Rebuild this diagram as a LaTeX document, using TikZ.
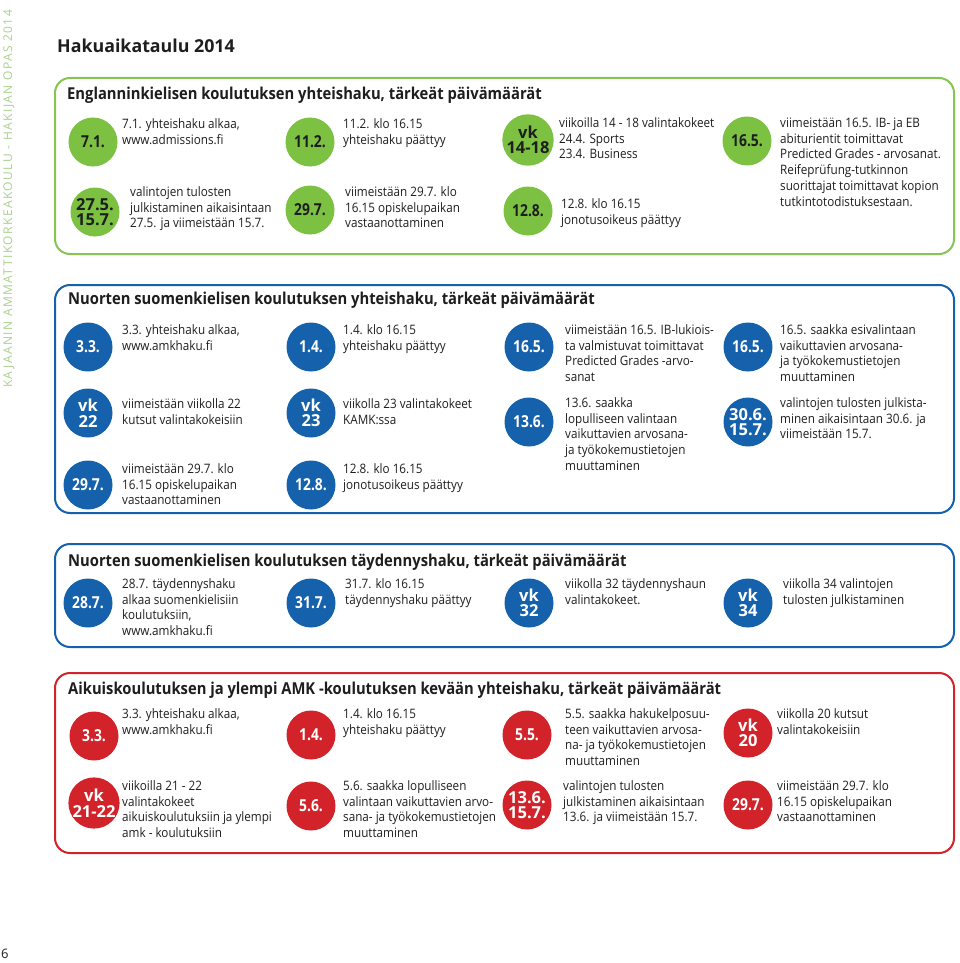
\documentclass[tikz,border=0pt]{standalone}
\usepackage{fontspec}
\setmainfont{Open Sans}
\newfontfamily\sidefont[LetterSpace=12]{Open Sans}
\newfontfamily\labfam[FakeStretch=0.84]{Open Sans}
\newfontfamily\bodyfam[FakeStretch=0.9]{Open Sans}
\newfontfamily\secfam[FakeStretch=0.9]{Open Sans}
\definecolor{kgreen}{HTML}{7DC142}
\definecolor{kgreenline}{HTML}{86C552}
\definecolor{kside}{HTML}{A9D18E}
\definecolor{kblue}{HTML}{1661AC}
\definecolor{kred}{HTML}{D2232A}
\definecolor{ktext}{HTML}{1E1E1E}
\newcommand\fl{\rule{0pt}{12pt}}
\newcommand\bodyfont{\bodyfam\fontsize{13}{15.8}\selectfont}
\newcommand\labfont{\labfam\bfseries\fontsize{16.5}{16}\selectfont}
\newcommand\labtwofont{\bfseries\fontsize{16.5}{15.5}\selectfont}
\newcommand\secfont{\secfam\bfseries\fontsize{16.4}{18}\selectfont}
\newcommand\titfont{\fontsize{17.8}{20}\selectfont\bfseries}
\newcommand\tb[4]{\node[txt] (#1) at (#2,{#3-12}) {\fl #4};}
\begin{document}
\begin{tikzpicture}[x=1pt,y=-1pt,
  txt/.style={anchor=north west, inner sep=0pt, align=left, font=\bodyfont, text=ktext},
  dotbase/.style={circle, minimum size=49pt, inner sep=0pt, font=\labfont, align=center},
  two/.style={font=\labtwofont},
  gdot/.style={dotbase, fill=kgreen, text=ktext},
  bdot/.style={dotbase, fill=kblue, text=white},
  rdot/.style={dotbase, fill=kred, text=white},
  frame/.style={rounded corners=15pt, line width=2pt},
  sect/.style={anchor=base west, inner sep=0pt, font=\secfont, text=ktext}]
\useasboundingbox (0,0) rectangle (960,963);
\fill[white] (0,0) rectangle (960,963);

% side text and page number
\node[rotate=90, anchor=west, inner sep=0pt, text=kside, font=\fontsize{12}{12}\selectfont\sidefont] (side) at (9,388) {KAJAANIN AMMATTIKORKEAKOULU - HAKIJAN OPAS 2014};
\node[anchor=base west, inner sep=0pt, font=\fontsize{13}{13}\selectfont, text=ktext] (pg) at (1,958) {6};

% title
\node[anchor=base west, inner sep=0pt, font=\titfont, text=ktext] (title) at (57,53) {Hakuaikataulu 2014};

% ---------- green section
\draw[frame, kgreenline] (55,78) rectangle (954,254);
\node[sect] (gsec) at (67,100) {Englanninkielisen koulutuksen yhteishaku, tärkeät päivämäärät};
\node[gdot] (g1) at (93,142) {7.1.};
\tb{g1t}{122}{128}{7.1. yhteishaku alkaa,\\www.admissions.fi}
\node[gdot, two] (g2) at (95,212) {27.5.\\15.7.};
\tb{g2t}{130}{196}{valintojen tulosten\\julkistaminen aikaisintaan\\27.5. ja viimeistään 15.7.}
\node[gdot] (g3) at (310,142) {11.2.};
\tb{g3t}{343}{128}{11.2. klo 16.15\\yhteishaku päättyy}
\node[gdot] (g4) at (310,210) {29.7.};
\tb{g4t}{345}{196}{viimeistään 29.7. klo\\16.15 opiskelupaikan\\vastaanottaminen}
\node[gdot, two] (g5) at (528,140) {vk\\14-18};
\tb{g5t}{559}{127}{viikoilla 14 - 18 valintakokeet\\24.4. Sports\\23.4. Business}
\node[gdot] (g6) at (528,211) {12.8.};
\tb{g6t}{561}{208}{12.8. klo 16.15\\jonotusoikeus päättyy}
\node[gdot] (g7) at (747,141) {16.5.};
\tb{g7t}{780}{127}{viimeistään 16.5. IB- ja EB\\abiturientit toimittavat\\Predicted Grades - arvosanat.\\Reifeprüfung-tutkinnon\\suorittajat toimittavat kopion\\tutkintotodistuksestaan.}

% ---------- blue section 1
\draw[frame, kblue] (55,285) rectangle (954,513);
\node[sect] (bsec) at (68,304) {Nuorten suomenkielisen koulutuksen yhteishaku, tärkeät päivämäärät};
\node[bdot] (b1) at (88,347) {3.3.};
\tb{b1t}{122}{334}{3.3. yhteishaku alkaa,\\www.amkhaku.fi}
\node[bdot, two] (b2) at (88,413) {vk\\22};
\tb{b2t}{122}{408}{viimeistään viikolla 22\\kutsut valintakokeisiin}
\node[bdot] (b3) at (88,485) {29.7.};
\tb{b3t}{122}{473}{viimeistään 29.7. klo\\16.15 opiskelupaikan\\vastaanottaminen}
\node[bdot] (b4) at (311,347) {1.4.};
\tb{b4t}{343}{334}{1.4. klo 16.15\\yhteishaku päättyy}
\node[bdot, two] (b5) at (311,413) {vk\\23};
\tb{b5t}{343}{408}{viikolla 23 valintakokeet\\KAMK:ssa}
\node[bdot] (b6) at (311,485) {12.8.};
\tb{b6t}{343}{473}{12.8. klo 16.15\\jonotusoikeus päättyy}
\node[bdot] (b7) at (529,347) {16.5.};
\tb{b7t}{565}{334}{viimeistään 16.5. IB-lukiois-\\ta valmistuvat toimittavat\\Predicted Grades -arvo-\\sanat}
\node[bdot] (b8) at (529,422) {13.6.};
\tb{b8t}{565}{407}{13.6. saakka\\lopulliseen valintaan\\vaikuttavien arvosana-\\ja työkokemustietojen\\muuttaminen}
\node[bdot] (b9) at (748,347) {16.5.};
\tb{b9t}{780}{334}{16.5. saakka esivalintaan\\vaikuttavien arvosana-\\ja työkokemustietojen\\muuttaminen}
\node[bdot, two] (b10) at (748,422) {30.6.\\15.7.};
\tb{b10t}{780}{407}{valintojen tulosten julkista-\\minen aikaisintaan 30.6. ja\\viimeistään 15.7.}

% ---------- blue section 2
\draw[frame, kblue] (55,544) rectangle (954,647);
\node[sect] (csec) at (68,566) {Nuorten suomenkielisen koulutuksen täydennyshaku, tärkeät päivämäärät};
\node[bdot] (c1) at (88,603) {28.7.};
\tb{c1t}{122}{588}{28.7. täydennyshaku\\alkaa suomenkielisiin\\koulutuksiin,\\www.amkhaku.fi}
\node[bdot] (c2) at (311,603) {31.7.};
\tb{c2t}{345}{588}{31.7. klo 16.15\\täydennyshaku päättyy}
\node[bdot, two] (c3) at (529,603) {vk\\32};
\tb{c3t}{565}{588}{viikolla 32 täydennyshaun\\valintakokeet.}
\node[bdot, two] (c4) at (748,603) {vk\\34};
\tb{c4t}{783}{588}{viikolla 34 valintojen\\tulosten julkistaminen}

% ---------- red section
\draw[frame, kred] (55,673) rectangle (954,853);
\node[sect] (rsec) at (68,694) {Aikuiskoulutuksen ja ylempi AMK -koulutuksen kevään yhteishaku, tärkeät päivämäärät};
\node[rdot] (r1) at (94,736) {3.3.};
\tb{r1t}{122}{718}{3.3. yhteishaku alkaa,\\www.amkhaku.fi}
\node[rdot, two] (r2) at (94,803) {vk\\21-22};
\tb{r2t}{122}{790}{viikoilla 21 - 22\\valintakokeet\\aikuiskoulutuksiin ja ylempi\\amk - koulutuksiin}
\node[rdot] (r3) at (311,735) {1.4.};
\tb{r3t}{343}{718}{1.4. klo 16.15\\yhteishaku päättyy}
\node[rdot] (r4) at (311,806) {5.6.};
\tb{r4t}{343}{790}{5.6. saakka lopulliseen\\valintaan vaikuttavien arvo-\\sana- ja työkokemustietojen\\muuttaminen}
\node[rdot] (r5) at (527,735) {5.5.};
\tb{r5t}{565}{718}{5.5. saakka hakukelposuu-\\teen vaikuttavien arvosa-\\na- ja työkokemustietojen\\muuttaminen}
\node[rdot, two] (r6) at (527,805) {13.6.\\15.7.};
\tb{r6t}{563}{790}{valintojen tulosten\\julkistaminen aikaisintaan\\13.6. ja viimeistään 15.7.}
\node[rdot, two] (r7) at (748,733) {vk\\20};
\tb{r7t}{777}{718}{viikolla 20 kutsut\\valintakokeisiin}
\node[rdot] (r8) at (748,805) {29.7.};
\tb{r8t}{777}{790}{viimeistään 29.7. klo\\16.15 opiskelupaikan\\vastaanottaminen}
\end{tikzpicture}
\end{document}
